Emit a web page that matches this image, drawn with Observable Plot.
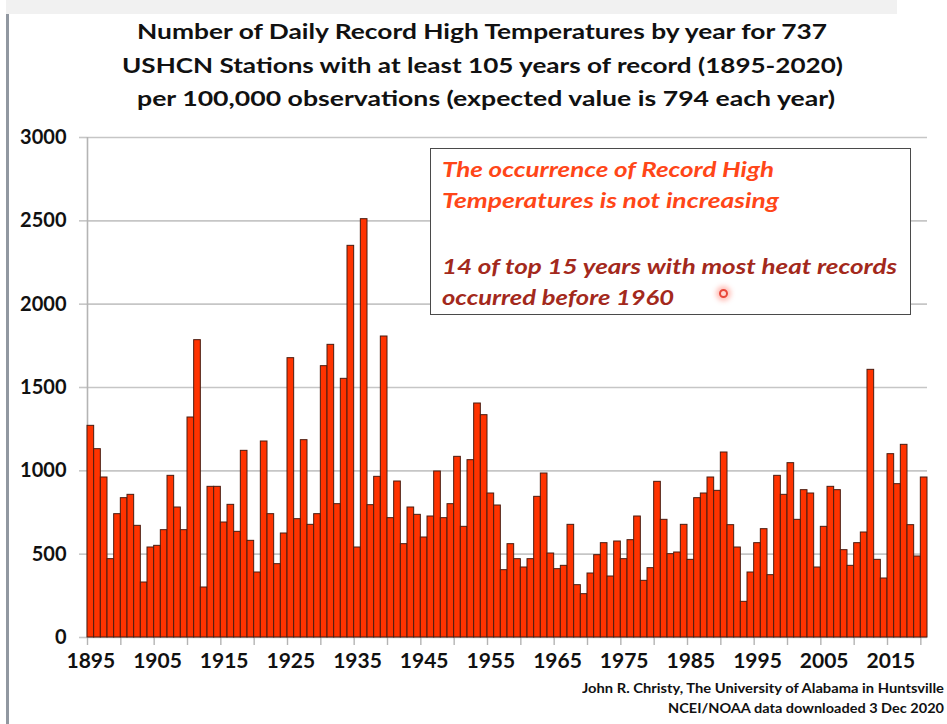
<!DOCTYPE html>
<html><head><meta charset="utf-8">
<script src="https://cdn.jsdelivr.net/npm/d3@7"></script>
<script src="https://cdn.jsdelivr.net/npm/@observablehq/plot@0.6"></script>
<style>
html,body{margin:0;padding:0;background:#fff;}
#wrap{position:relative;width:947px;height:724px;overflow:hidden;font-family:Lato,"DejaVu Sans",sans-serif;background:#fff;}
.t{position:absolute;white-space:nowrap;line-height:1.2;transform-origin:0 0;}
</style></head><body><div id="wrap"></div>
<script>
// ---- data ----
const startYear = 1895;
const records = [
  1270,1130,960,470,740, 836,856,670,330,540, 550,644,970,780,644, 1320,1784,300,904,904,
  690,796,634,1120,580, 390,1176,740,440,624, 1676,710,1184,676,740, 1628,1756,800,1552,2350,
  540,2510,794,964,1806, 716,936,560,780,736, 600,726,996,716,800, 1084,664,1064,1404,1334,
  864,792,404,560,470, 420,470,844,984,504, 410,430,676,314,260, 384,494,566,366,576,
  470,584,726,340,416, 934,706,500,510,676, 466,836,864,960,880, 1110,674,540,214,390,
  566,650,374,970,856, 1046,706,884,864,420, 664,904,884,524,430, 566,630,1606,466,354,
  1100,920,1156,674,486, 960
];
const yTicks = [0, 500, 1000, 1500, 2000, 2500, 3000];
const xLabelYears = [1895, 1905, 1915, 1925, 1935, 1945, 1955, 1965, 1975, 1985, 1995, 2005, 2015];
const xTickYears = [1895,1900,1905,1910,1915,1920,1925,1930,1935,1940,1945,1950,1955,1960,1965,1970,1975,1980,1985,1990,1995,2000,2005,2010,2015,2020];
const titleLines = [
  "Number of Daily Record High Temperatures by year for 737",
  "USHCN Stations with at least 105 years of record (1895-2020)",
  "per 100,000 observations (expected value is 794 each year)"
];
const noteLines = [
  "The occurrence of Record High",
  "Temperatures is not increasing",
  "14 of top 15 years with most heat records",
  "occurred before 1960"
];
const creditLines = [
  "John R. Christy, The University of Alabama in Huntsville",
  "NCEI/NOAA data downloaded 3 Dec 2020"
];

const data = records.map((v, i) => ({year: startYear + i, value: v}));
const wrap = document.getElementById("wrap");

// decorative frame
const band = document.createElement("div");
band.style.cssText = "position:absolute;left:6px;top:0;width:891px;height:14px;background:#f1f1f1;";
wrap.appendChild(band);
const edge = document.createElement("div");
edge.style.cssText = "position:absolute;left:6px;top:14px;width:3px;height:710px;background:#9198a1;";
wrap.appendChild(edge);

// ---- chart ----
const chart = Plot.plot({
  width: 947, height: 560,
  marginLeft: 87, marginRight: 20, marginTop: 17, marginBottom: 43,
  style: {fontFamily: "Lato, sans-serif", fontWeight: "bold", background: "transparent", overflow: "visible", color: "#111"},
  x: {domain: [startYear, startYear + records.length]},
  y: {domain: [0, 3000]},
  marks: [
    Plot.ruleY(yTicks, {x1: startYear, x2: startYear + records.length, stroke: "#c6c6c6", strokeWidth: 1.6}),
    Plot.axisY({ticks: yTicks, tickSize: 8, tickPadding: 13, tickFormat: d => String(d), fontSize: 20, fontWeight: "bold", stroke: "#c6c6c6", strokeWidth: 1.6, fill: "#111", label: null}),
    Plot.axisX({ticks: xTickYears, tickSize: 8, tickFormat: () => "", stroke: "#b4b4b4", strokeWidth: 1.4, label: null}),
    Plot.ruleX([startYear], {stroke: "#b4b4b4", strokeWidth: 1.6}),
    Plot.rectY(data, {x1: "year", x2: d => d.year + 1, y: "value", fill: "#ff3300", stroke: "#4a1c10", strokeWidth: 1}),
    Plot.text(xLabelYears, {x: d => d + 0.5, frameAnchor: "bottom", dy: 30, fontSize: 21, fontWeight: "bold", fill: "#111", text: d => String(d)})
  ]
});
chart.style.position = "absolute";
chart.style.left = "0px";
chart.style.top = "120px";
wrap.appendChild(chart);

// ---- text helper: place by baseline, stretch to target width ----
function place(txt, o) {
  const d = document.createElement("div");
  d.className = "t";
  d.style.font = `${o.italic ? "italic " : ""}bold ${o.size}px Lato, sans-serif`;
  d.style.color = o.color || "#111";
  d.textContent = txt;
  const m = document.createElement("span");
  m.style.cssText = "display:inline-block;width:0;height:0;";
  d.appendChild(m);
  wrap.appendChild(d);
  const b = m.offsetTop;
  const w = d.getBoundingClientRect().width;
  const s = o.width ? o.width / w : 1;
  d.style.transform = `scaleX(${s})`;
  const left = o.right != null ? o.right - w * s : o.left;
  d.style.left = left + "px";
  d.style.top = (o.baseline - b) + "px";
  return d;
}

// title
place(titleLines[0], {left: 137, baseline: 39, size: 20, width: 690});
place(titleLines[1], {left: 122, baseline: 72.5, size: 20, width: 721});
place(titleLines[2], {left: 137, baseline: 106, size: 20, width: 698});

// annotation box
const box = document.createElement("div");
box.style.cssText = "position:absolute;left:430px;top:148px;width:479px;height:165px;border:1.6px solid #4a4a4a;background:#fff;";
wrap.appendChild(box);
place(noteLines[0], {left: 442, baseline: 177, size: 20, width: 332, italic: true, color: "#ff4618"});
place(noteLines[1], {left: 442, baseline: 207.5, size: 20, width: 337, italic: true, color: "#ff4618"});
place(noteLines[2], {left: 442, baseline: 273.5, size: 20, width: 455, italic: true, color: "#a3291c"});
place(noteLines[3], {left: 442, baseline: 305, size: 20, width: 232, italic: true, color: "#a3291c"});
const dot = document.createElement("div");
dot.style.cssText = "position:absolute;left:719px;top:289px;width:5px;height:5px;border-radius:50%;border:2px solid #e8473a;background:#ffd6d0;box-shadow:0 0 5px 3px rgba(255,110,95,0.45);";
wrap.appendChild(dot);

// credits
place(creditLines[0], {right: 944, baseline: 693, size: 13, width: 362});
place(creditLines[1], {right: 944, baseline: 713, size: 13, width: 276});
</script>
</body></html>
